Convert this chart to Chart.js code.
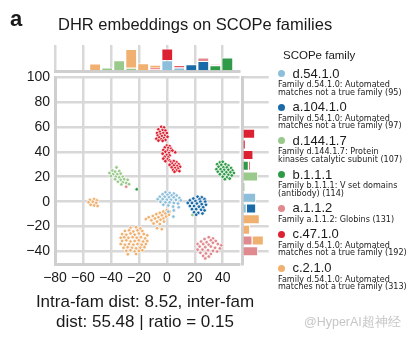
<!DOCTYPE html>
<html>
<head>
<meta charset="utf-8">
<script src="https://cdn.jsdelivr.net/npm/chart.js@4.4.1/dist/chart.umd.min.js"></script>
<style>
  html, body { margin: 0; padding: 0; background: #fff; }
  body { width: 412px; height: 339px; position: relative; overflow: hidden; font-family: 'Liberation Sans', Arial, sans-serif; color: #1a1a1a; }
  canvas { position: absolute; left: 0; top: 0; }
  .panel { position: absolute; left: 10px; top: 6px; font-size: 22px; font-weight: bold; line-height: 26px; }
  .title { position: absolute; left: 58px; top: 14px; font-size: 16.5px; line-height: 20px; }
  #legend { position: absolute; left: 278px; top: 47.5px; width: 134px; }
  .lg-title { font-size: 11.5px; line-height: 15px; margin-left: 5px; }
  .item { margin-top: 4px; }
  .name { position: relative; font-size: 13px; line-height: 14px; height: 14px; padding-left: 14.5px; }
  .dot { position: absolute; left: 0; top: 3.5px; width: 7px; height: 7px; border-radius: 50%; }
  .desc { font-family: 'DejaVu Sans', sans-serif; font-size: 7.8px; line-height: 7.6px; margin-top: 0.5px; white-space: pre-line; }
  .stats { position: absolute; left: 0; top: 291.7px; width: 290px; text-align: center; font-size: 17px; line-height: 20px; }
  .mark { position: absolute; left: 304px; top: 314px; font-size: 12.5px; line-height: 16px; color: #c6c6c6; }
</style>
</head>
<body>
<canvas id="main" width="412" height="339"></canvas>
<canvas id="top" width="412" height="339"></canvas>
<canvas id="side" width="412" height="339"></canvas>
<div class="panel">a</div>
<div class="title">DHR embeddings on SCOPe families</div>
<div id="legend"><div class="lg-title">SCOPe family</div></div>
<div class="stats">Intra-fam dist: 8.52, inter-fam<br>dist: 55.48 | ratio = 0.15</div>
<div class="mark">@HyperAI超神经</div>
<script>
const familyNames = ['d.54.1.0', 'a.104.1.0', 'd.144.1.7', 'b.1.1.1', 'a.1.1.2', 'c.47.1.0', 'c.2.1.0'];
const familyDescs = [
  'Family d.54.1.0: Automated\nmatches not a true family (95)',
  'Family d.54.1.0: Automated\nmatches not a true family (97)',
  'Family d.144.1.7: Protein\nkinases catalytic subunit (107)',
  'Family b.1.1.1: V set domains\n(antibody) (114)',
  'Family a.1.1.2: Globins (131)',
  'Family d.54.1.0: Automated\nmatches not a true family (192)',
  'Family d.54.1.0: Automated\nmatches not a true family (313)'
];
const familyColors = ['#8dbfdb', '#1b6aa8', '#99c98b', '#2f9a48', '#e08a8f', '#dc2232', '#f0b070'];

const xTicks = [-80, -60, -40, -20, 0, 20, 40];
const yTicks = [-40, -20, 0, 20, 40, 60, 80, 100];

// embedding coordinates per family
const ptsD54 = [[-1,7.5],[2,7],[5,6.5],[-3,6],[0.5,5.5],[3.5,5],[7,5],[-5,4],[-1.5,4],[1.5,3.5],[5,3.5],[9,3],[-6.5,2],[-3,2],[0,1.5],[3,1.5],[6.5,1.5],[10,1],[-4.5,0],[-1,-0.5],[2,-0.5],[5,-1],[8,-1.5],[-2.5,-2.5],[1,-3],[4.5,-4],[8.5,-4.5],[1,-8],[5,-7],[4.7,-12]];
const ptsA104 = [[22,4],[25,3.5],[19,2.5],[23.5,2],[27,2],[16.5,1],[20.5,0.5],[24,0],[27.5,0],[15,-1],[18,-1],[21.5,-1.5],[25,-2],[28,-2.5],[16.5,-3.5],[19.5,-3.5],[23,-4],[26,-4.5],[18,-6],[21,-6],[24.5,-6.5],[27,-7],[19.5,-8.5],[22.5,-9],[25.5,-9.5],[21,-10.5]];
const ptsD144 = [[-36,27.5],[-39,25],[-41,23],[-37,24],[-34,24.5],[-38.5,22],[-35.5,22],[-33,22.5],[-40,20.5],[-36.5,20],[-34,19.5],[-31.5,20],[-37,18],[-33,17.5],[-30.5,18],[-28,17.5],[-35,16],[-31.5,15.5],[-29,15],[-32.5,13.8],[-27,14],[18.3,-10.7]];
const ptsB111 = [[38,31.5],[40,32],[36,30],[39,29.5],[42,30],[44,29],[37,28],[40.5,27.5],[43,27.5],[46,27],[35.5,26],[38.5,26],[41,25.5],[44,25.5],[47,25],[36.5,24],[39.5,24],[42.5,23.5],[45.5,23.5],[48,23],[38,22],[41,22],[44,21.5],[46.5,21],[40,20],[43,19.5],[45,18.5],[41.5,18],[-21.5,9.9]];
const ptsA112 = [[30,-28.5],[33,-29.5],[27,-30],[31.5,-31],[35,-31.5],[24.5,-32],[28.5,-32.5],[33,-33],[22,-34],[26,-34],[30,-34.5],[36.5,-34],[39,-35],[23.5,-36],[27.5,-36.5],[31.5,-36],[34.5,-37],[38,-37.5],[22,-38.5],[25.5,-38.5],[29.5,-39],[33,-39.5],[36,-40],[24,-41],[28,-41.5],[31.5,-42],[26,-43.5],[30,-44],[27.5,-45.5],[-29.1,12]];
const ptsC47 = [
  [-4,60],[-2,59.5],[-6,58],[-3,57.5],[-1,57],[-5,56],[-7,55],[-2.5,55],[0,55],[-4.5,54],[-6.5,53],[-1.5,53],[-3.5,52.5],[-5.5,51.5],[-2,51],[-7.5,50.5],[-4,50],[0.5,52],[-1,49.5],[-3,48.8],[-6,49],
  [0,45],[2,44.5],[-1.5,43.5],[1,43],[3,42.5],[-2.5,41.5],[0.5,41],[2.5,40.5],[-1,40],[1.5,39],[-3,38.5],[0,37.5],[2,37],[-1.5,36],[1,35.5],[-2.5,34.5],[0.5,34],[2,33],[-1,32.5],[6,39.6],[4,41],
  [3,32],[5,32.5],[7,31.5],[4,30.5],[6,30],[8.5,30],[2,29.5],[5,29],[7.5,28.5],[9.5,28],[3.5,27.5],[6,27],[8,26.5],[4.5,25.5],[7,25],[9,24.5],[5.5,24]
];
const ptsC21 = [
  [-55,1.5],[-52,2],[-50,1],[-56,-0.5],[-53,0],[-50.5,-1],[-54.5,-2.5],[-52,-3],[-49.5,-3.5],
  [0,-6.8],[2,-8],[-2.5,-8],[-5,-9],[-1,-9.5],[1.5,-10.5],[-7.5,-10],[-3.5,-11],[-0.5,-12],[-10,-11.5],[-6,-12.5],[-2.5,-13.5],[-13,-12.5],[-8.5,-13.5],[-4.5,-14.5],[-15,-14],[-11,-15],[-7,-16],[-2,-16],[-9.5,-17.5],[-5,-18],[-7,-21.3],[-3.6,-22],
  [-26,-21],[-22,-20.5],[-19,-21.5],[-30,-23.5],[-27,-23],[-24,-24],[-21,-23],[-17.5,-23.5],
  [-32,-26],[-29,-26.5],[-26,-25.5],[-23,-26.5],[-20,-25.5],[-16.5,-26],[-14,-27],
  [-33,-29],[-30.5,-28.5],[-27.5,-29],[-24.5,-28.5],[-21.5,-29],[-18.5,-28.5],[-15.5,-29.5],
  [-32,-31.5],[-29,-31],[-26,-32],[-23,-31.5],[-20,-31],[-17,-32],[-14,-31.5],
  [-33,-34],[-30,-34.5],[-27,-34],[-24,-34.5],[-21,-34],[-18,-34.5],[-15,-34],
  [-31,-37],[-28,-36.5],[-25,-37],[-22,-37.5],[-19,-37],[-16,-36.5],
  [-29,-39.5],[-26,-39],[-23,-40],[-20,-39.5],[-17.5,-39],[-27.9,-42.2],[-22,-42]
];
const familyPoints = [ptsD54, ptsA104, ptsD144, ptsB111, ptsA112, ptsC47, ptsC21];

// marginal histograms (counts per bin, one row per family)
const topBinCenters = [-51.3, -42.7, -34.1, -25.5, -16.9, -8.3, 0.3, 8.9, 17.5, 26.1, 34.7, 43.3];
const topHistCounts = [
  [0, 0, 0, 0, 0, 0, 90, 24, 0, 0, 0, 0],
  [0, 0, 0, 0, 0, 0, 0, 0, 54, 84, 0, 0],
  [0, 24, 90, 22, 0, 0, 0, 0, 0, 0, 0, 0],
  [0, 0, 0, 0, 0, 0, 0, 0, 0, 0, 45, 114],
  [0, 0, 0, 0, 0, 10, 0, 0, 0, 30, 9, 0],
  [0, 0, 0, 0, 0, 12, 105, 22, 0, 0, 0, 0],
  [60, 0, 0, 170, 63, 27, 0, 0, 0, 0, 0, 0]
];
const sideBinCenters = [54.5, 45.9, 37.4, 28.8, 20.2, 11.7, 3.1, -5.5, -14.1, -22.6, -31.2, -39.8];
const sideHistCounts = [
  [0, 0, 0, 0, 0, 0, 114, 30, 0, 0, 0, 0],
  [0, 0, 0, 0, 0, 0, 0, 84, 0, 0, 0, 0],
  [0, 0, 0, 0, 132, 18, 0, 0, 0, 0, 0, 0],
  [0, 0, 0, 48, 0, 0, 0, 0, 0, 0, 0, 0],
  [0, 0, 0, 0, 0, 0, 0, 0, 0, 0, 81, 132],
  [105, 21, 90, 15, 0, 0, 0, 0, 0, 0, 0, 0],
  [0, 0, 0, 0, 0, 0, 0, 0, 147, 60, 102, 0]
];

Chart.defaults.font.family = "'Liberation Sans', Arial, sans-serif";
Chart.defaults.color = '#1a1a1a';
Chart.defaults.animation = false;

const GRID = '#d8d8d8';
const minus = v => (v < 0 ? '\u2212' + Math.abs(v) : String(v));
const setTicks = list => axis => { axis.ticks = list.map(v => ({ value: v })); };
const noPlugins = { legend: { display: false }, tooltip: { enabled: false } };

// legend; description text is sized so the longest line fills the column
const legend = document.getElementById('legend');
const measure = document.createElement('canvas').getContext('2d');
measure.font = '10px "DejaVu Sans"';
const descLine = 'Family d.54.1.0: Automated';
const descSize = 10 * 112 / measure.measureText(descLine).width;
familyNames.forEach((name, i) => {
  const item = document.createElement('div');
  item.className = 'item';
  item.innerHTML = `<div class="name"><span class="dot" style="background:${familyColors[i]}"></span>${name}</div>` +
    `<div class="desc" style="font-size:${descSize.toFixed(2)}px">${familyDescs[i]}</div>`;
  legend.appendChild(item);
});

// scatter of embeddings
new Chart(document.getElementById('main'), {
  type: 'scatter',
  data: {
    datasets: familyNames.map((name, i) => ({
      label: name,
      data: familyPoints[i].map(p => ({ x: p[0], y: p[1] })),
      backgroundColor: familyColors[i],
      borderColor: '#ffffff',
      borderWidth: 0.7,
      pointRadius: 1.8
    }))
  },
  options: {
    responsive: false,
    layout: { padding: { left: 0, top: 77, right: 172.5, bottom: 51 } },
    plugins: noPlugins,
    scales: {
      x: {
        type: 'linear', min: -80, max: 52,
        afterBuildTicks: setTicks(xTicks),
        afterFit: a => { a.height = 24; },
        grid: { color: GRID, lineWidth: 2.5, drawTicks: false },
        border: { color: '#cfcfcf', width: 3 },
        ticks: { padding: 6, font: { size: 14 }, callback: minus, autoSkip: false, maxRotation: 0 }
      },
      y: {
        type: 'linear', min: -50, max: 100,
        afterBuildTicks: setTicks(yTicks),
        afterFit: a => { a.width = 55; },
        grid: { color: GRID, lineWidth: 2.5, drawTicks: false },
        border: { color: '#cfcfcf', width: 3 },
        ticks: { padding: 5, font: { size: 14 }, callback: minus, autoSkip: false }
      }
    }
  }
});

// histogram along x, above the scatter
new Chart(document.getElementById('top'), {
  type: 'bar',
  data: {
    datasets: familyNames.map((name, i) => ({
      label: name,
      data: topBinCenters.map((x, k) => ({ x, y: topHistCounts[i][k] })).filter(p => p.y > 0),
      backgroundColor: familyColors[i],
      borderColor: '#ffffff',
      borderWidth: 1,
      borderSkipped: 'start',
      barPercentage: 0.98,
      categoryPercentage: 1
    }))
  },
  options: {
    responsive: false,
    layout: { padding: { left: 55, top: 45, right: 172.5, bottom: 267.3 } },
    plugins: noPlugins,
    scales: {
      x: {
        type: 'linear', min: -80, max: 52, stacked: true, offset: false,
        afterBuildTicks: setTicks(xTicks),
        afterFit: a => { a.height = 0; },
        grid: { color: GRID, lineWidth: 2.5, drawTicks: false, offset: false },
        border: { color: '#cfcfcf', width: 3 },
        ticks: { display: false }
      },
      y: { type: 'linear', min: -13, max: 227, stacked: true, display: false }
    }
  }
});

// histogram along y, right of the scatter
new Chart(document.getElementById('side'), {
  type: 'bar',
  data: {
    datasets: familyNames.map((name, i) => ({
      label: name,
      data: sideBinCenters.map((y, k) => ({ y, x: sideHistCounts[i][k] })).filter(p => p.x > 0),
      backgroundColor: familyColors[i],
      borderColor: '#ffffff',
      borderWidth: 1,
      borderSkipped: 'start',
      barPercentage: 0.95,
      categoryPercentage: 1
    }))
  },
  options: {
    indexAxis: 'y',
    responsive: false,
    layout: { padding: { left: 242, top: 77, right: 143.3, bottom: 75 } },
    plugins: noPlugins,
    scales: {
      x: { type: 'linear', min: -13, max: 227, stacked: true, display: false },
      y: {
        type: 'linear', min: -50, max: 100, stacked: true, offset: false,
        afterBuildTicks: setTicks(yTicks),
        afterFit: a => { a.width = 0; },
        grid: { color: GRID, lineWidth: 2.5, drawTicks: false, offset: false },
        border: { color: '#cfcfcf', width: 3 },
        ticks: { display: false }
      }
    }
  }
});
</script>
</body>
</html>
